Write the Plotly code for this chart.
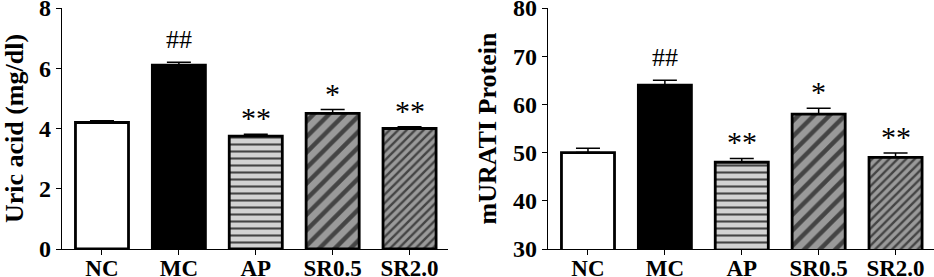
import plotly.graph_objects as go

groups = ["NC", "MC", "AP", "SR0.5", "SR2.0"]
uric_acid = [4.2, 6.1, 3.75, 4.5, 4.0]
uric_acid_err = [0.06, 0.1, 0.06, 0.13, 0.06]
urat1 = [50.0, 64.0, 48.0, 58.0, 49.0]
urat1_err = [0.9, 1.0, 0.8, 1.2, 0.9]
marks = ["", "##", "**", "*", "**"]

FONT = "Liberation Serif"
fills = ["white", "black", "#d2d2d2", "#9a9a9a", "#9a9a9a"]
shapes = ["", "", "-", "/", "/"]
sizes = [8, 8, 7, 11, 6]
solid = [0.3, 0.3, 0.3, 0.4, 0.4]

fig = go.Figure()

def add_panel(vals, errs, xa, ya):
    fig.add_trace(go.Bar(
        x=groups, y=vals, xaxis=xa, yaxis=ya, width=0.69,
        marker=dict(color=fills, line=dict(color="black", width=2.8),
                    pattern=dict(shape=shapes, fgcolor="black", fgopacity=1,
                                 size=sizes, solidity=solid, fillmode="overlay")),
        error_y=dict(type="data", array=errs, arrayminus=[0]*len(errs), symmetric=False,
                     color="black", thickness=1.5, width=12),
        showlegend=False, hoverinfo="skip"))

add_panel(uric_acid, uric_acid_err, "x", "y")
add_panel(urat1, urat1_err, "x2", "y2")

for i, g in enumerate(groups):
    if marks[i]:
        fs = 26 if marks[i] == "##" else 30
        ys = 6 if marks[i] == "##" else -2
        fig.add_annotation(x=g, y=uric_acid[i] + uric_acid_err[i], xref="x", yref="y",
                           text=marks[i], showarrow=False, yanchor="bottom", yshift=ys,
                           font=dict(family=FONT, size=fs, color="black"))
        fig.add_annotation(x=g, y=urat1[i] + urat1_err[i], xref="x2", yref="y2",
                           text=marks[i], showarrow=False, yanchor="bottom", yshift=ys,
                           font=dict(family=FONT, size=fs, color="black"))

axis_common = dict(showline=True, linecolor="black", linewidth=1.2, ticks="outside",
                   ticklen=5, tickwidth=1.2, tickcolor="black", showgrid=False, zeroline=False,
                   ticklabeloverflow="allow", automargin=False)
xtick = dict(tickfont=dict(family=FONT, size=23, color="black"), ticklabelstandoff=-7)
ytick = dict(tickfont=dict(family=FONT, size=24, color="black"))

ydom = [1 - 249 / 277, 1 - 8 / 277]
fig.update_layout(
    width=934, height=277, margin=dict(l=0, r=0, t=0, b=0),
    plot_bgcolor="white", paper_bgcolor="white",
    xaxis=dict(domain=[62 / 934, 448 / 934], range=[-0.52, 4.5], anchor="y", **xtick, **axis_common),
    yaxis=dict(domain=ydom, range=[0, 8], dtick=2, anchor="x", **ytick,
               title=dict(text="<b>Uric acid (mg/dl)</b>", font=dict(family=FONT, size=26, color="black"), standoff=18),
               **axis_common),
    xaxis2=dict(domain=[548 / 934, 1.0], range=[-0.52, 4.5], anchor="y2", **xtick, **axis_common),
    yaxis2=dict(domain=ydom, range=[30, 80], dtick=10, anchor="x2", **ytick,
                title=dict(text="<b>mURATI Protein</b>", font=dict(family=FONT, size=26, color="black"), standoff=8),
                **axis_common),
)
fig.update_xaxes(tickprefix="<b>", ticksuffix="</b>")
fig.update_yaxes(tickprefix="<b>", ticksuffix="</b>")

fig.write_html("out.html", config={"displayModeBar": False},
               post_script="document.body.style.margin='0';")
